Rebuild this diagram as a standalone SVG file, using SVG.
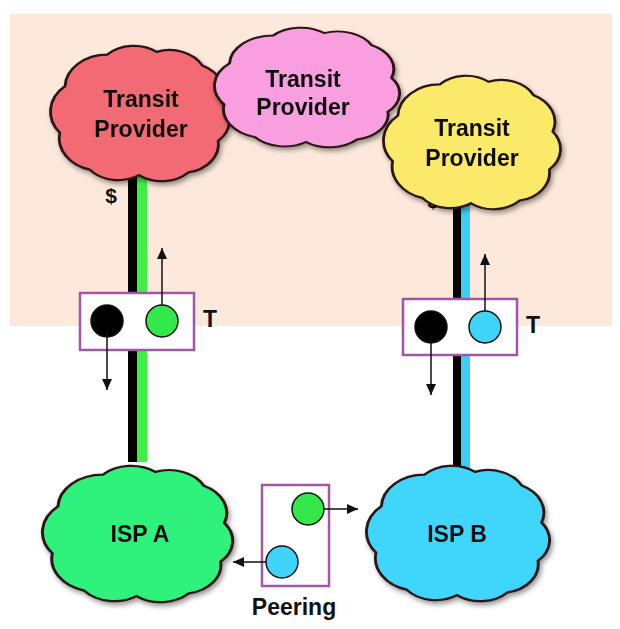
<svg xmlns="http://www.w3.org/2000/svg" xmlns:xlink="http://www.w3.org/1999/xlink" width="620" height="629" viewBox="0 0 620 629">
<style>
.cloud{stroke:#2a1414;stroke-width:1.6;vector-effect:non-scaling-stroke}
.lbl{font-family:"Liberation Sans",Arial,sans-serif;font-weight:bold;font-size:23px;fill:#111;text-anchor:middle}
.box{fill:#fff;stroke:#a257a4;stroke-width:2.5}
.dot{stroke:#111;stroke-width:1.5}
.arr{stroke:#111;stroke-width:1.5;fill:none;marker-end:url(#ah)}
</style>
<defs>
<path id="cl" d="M8,30 A24,24 0 0 1 32,7 A21,21 0 0 1 60,5 A21,21 0 0 1 86,15 A22,22 0 0 1 97,42 A21,21 0 0 1 95,70 A21,21 0 0 1 78,93 A21,21 0 0 1 50,95 A21,21 0 0 1 22,91 A24,24 0 0 1 5,64 A25,25 0 0 1 8,30 Z"/>
<filter id="sh" x="-10%" y="-10%" width="125%" height="130%">
<feDropShadow dx="2" dy="3" stdDeviation="2.5" flood-color="#000" flood-opacity="0.4"/>
</filter>
<marker id="ah" markerUnits="userSpaceOnUse" markerWidth="12" markerHeight="10" refX="11" refY="5" orient="auto">
<path d="M0,0 L11,5 L0,10 Z" fill="#111"/>
</marker>
</defs>
<rect x="10" y="14" width="602" height="312" fill="#fde9dc"/>
<g id="connectors">
<rect x="128" y="170" width="10" height="292" fill="#000"/>
<rect x="137" y="170" width="10" height="292" fill="#3ef046"/>
<rect x="453" y="200" width="8" height="268" fill="#000"/>
<rect x="461" y="200" width="9" height="268" fill="#3ecdf3"/>
</g>
<text class="lbl" x="111" y="203" style="font-size:21px">$</text>
<text class="lbl" x="433" y="208" style="font-size:21px">$</text>
<g id="transit-red" filter="url(#sh)">
<use xlink:href="#cl" class="cloud" fill="#f26b73" transform="translate(51,45) scale(1.76,1.37)"/>
<text class="lbl" x="141" y="107">Transit</text>
<text class="lbl" x="141" y="137">Provider</text>
</g>
<g id="transit-pink" filter="url(#sh)">
<use xlink:href="#cl" class="cloud" fill="#f99fe0" transform="translate(215,27) scale(1.82,1.21)"/>
<text class="lbl" x="303" y="87">Transit</text>
<text class="lbl" x="303" y="115">Provider</text>
</g>
<g id="transit-yellow" filter="url(#sh)">
<use xlink:href="#cl" class="cloud" fill="#fbe96b" transform="translate(384,75) scale(1.74,1.35)"/>
<text class="lbl" x="472" y="136">Transit</text>
<text class="lbl" x="472" y="166">Provider</text>
</g>
<g id="isp-a" filter="url(#sh)">
<use xlink:href="#cl" class="cloud" fill="#2ef27b" transform="translate(43,465) scale(1.87,1.38)"/>
<text class="lbl" x="140" y="542">ISP A</text>
</g>
<g id="isp-b" filter="url(#sh)">
<use xlink:href="#cl" class="cloud" fill="#3fd5fb" transform="translate(367,465) scale(1.8,1.37)"/>
<text class="lbl" x="457" y="542">ISP B</text>
</g>
<g id="transit-link-a">
<rect class="box" x="80" y="293" width="114" height="57"/>
<circle class="dot" cx="107" cy="321" r="16" fill="#000"/>
<circle class="dot" cx="162" cy="321" r="16" fill="#33e84a"/>
<text class="lbl" x="210" y="327">T</text>
</g>
<g id="transit-link-b">
<rect class="box" x="403" y="299" width="114" height="56"/>
<circle class="dot" cx="431" cy="327" r="16" fill="#000"/>
<circle class="dot" cx="485" cy="327" r="16" fill="#3fd5fb"/>
<text class="lbl" x="533" y="333">T</text>
</g>
<g id="peering">
<rect class="box" x="262" y="485" width="67" height="101"/>
<circle class="dot" cx="308" cy="509" r="16" fill="#33e84a"/>
<circle class="dot" cx="282" cy="562" r="16" fill="#3fd5fb"/>
<text class="lbl" x="294" y="615">Peering</text>
</g>
<g id="arrows">
<line class="arr" x1="162" y1="305" x2="162" y2="248"/>
<line class="arr" x1="107" y1="330" x2="107" y2="390"/>
<line class="arr" x1="485" y1="311" x2="485" y2="254"/>
<line class="arr" x1="431" y1="336" x2="431" y2="395"/>
<line class="arr" x1="324" y1="509" x2="358" y2="509"/>
<line class="arr" x1="266" y1="562" x2="233" y2="562"/>
</g>
</svg>
